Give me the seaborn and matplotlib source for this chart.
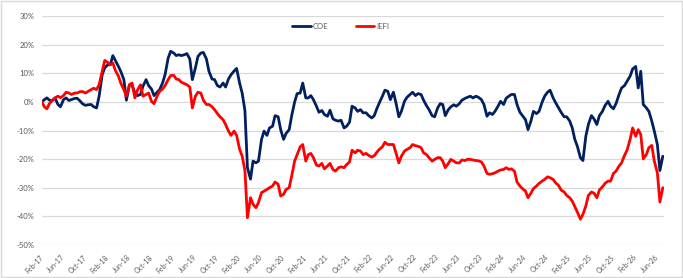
import numpy as np
import pandas as pd
import matplotlib
matplotlib.use("Agg")
import matplotlib.pyplot as plt
from matplotlib.patches import Rectangle
import seaborn as sns

# ---- data (cumulative performance, %, semi-monthly from Feb-2017) ----
start_date = "2017-02-01"
series_names = ["COE", "IEFI"]
series_colors = ["#002060", "#FF0000"]

coe = [
    0.0, 0.8, 1.4, 0.6, 0.5, 1.4, -0.9, -1.7, 0.8, 1.4,
    0.5, 0.8, 1.2, 1.3, 0.3, -0.7, -1.2, -1.0, -0.9, -1.7,
    -2.1, 2.0, 9.5, 11.9, 13.0, 13.0, 16.2, 14.5, 12.4, 10.5,
    7.8, 0.6, 6.0, 6.0, 3.1, 2.2, 2.6, 5.5, 7.8, 5.7,
    4.5, 2.2, 3.4, 4.3, 6.6, 9.5, 15.3, 17.7, 17.1, 16.2,
    16.5, 16.2, 16.5, 16.9, 15.0, 7.8, 11.9, 15.9, 17.1, 17.3,
    15.0, 10.7, 8.0, 7.8, 5.7, 5.2, 6.6, 5.2, 8.0, 9.5,
    10.8, 11.7, 6.5, 3.0, -3.0, -23.0, -27.0, -20.7, -21.3, -20.7,
    -13.1, -10.2, -11.7, -9.1, -8.5, -4.8, -5.2, -9.7, -13.1, -11.0,
    -9.7, -4.8, -0.1, 2.9, 3.1, 6.6, 1.4, 1.4, 2.2, 0.8,
    -1.5, -3.6, -3.0, -4.4, -5.0, -2.9, -5.9, -6.4, -6.7, -6.4,
    -9.1, -8.5, -7.1, -1.5, -2.1, -3.3, -2.7, -3.8, -3.8, -4.8,
    -5.6, -4.8, -2.4, -0.3, 2.0, 4.1, 3.7, 0.8, 3.4, -0.3,
    -5.2, -3.3, 0.2, 1.6, 2.6, 3.4, 2.2, 2.9, 2.6, 0.6,
    -1.3, -2.7, -4.8, -5.2, -2.1, -0.6, -0.9, -4.8, -2.7, -1.7,
    -1.0, -1.5, -0.6, 0.6, 1.2, 1.6, 2.0, 1.4, 2.0, 1.6,
    0.8, -0.9, -5.0, -3.8, -4.4, -3.3, -1.5, 0.2, -0.9, 1.3,
    2.0, 2.6, 2.6, -0.9, -3.6, -4.8, -6.2, -9.7, -6.7, -3.3,
    -4.1, -3.3, -0.1, 2.0, 3.4, 4.1, 1.4, -0.3, -2.1, -3.6,
    -5.2, -5.2, -6.7, -9.1, -13.1, -15.5, -19.5, -20.5, -12.0, -7.9,
    -4.8, -5.9, -7.9, -4.8, -3.3, -1.3, 0.2, -1.5, -2.4, -0.6,
    2.6, 4.9, 5.7, 7.2, 9.0, 11.5, 12.4, 4.9, 10.7, -0.9,
    -2.1, -3.3, -6.7, -10.2, -14.9, -24.0,
    -19.0,
]

iefi = [
    0.0, -1.7, -2.4, -0.6, 0.6, 1.4, 2.0, 1.5, 2.2, 3.4,
    3.1, 2.6, 3.1, 3.1, 3.6, 3.6, 3.1, 3.7, 4.3, 4.8,
    4.3, 6.0, 10.7, 14.5, 13.8, 13.0, 13.6, 11.0, 9.0, 6.4,
    4.3, 2.0, 6.0, 6.6, 1.4, 4.1, 6.0, 2.0, 2.6, 3.1,
    0.2, -0.6, 2.0, 3.7, 4.5, 5.7, 7.8, 9.2, 9.3, 8.0,
    7.8, 6.9, 6.4, 6.0, 5.2, -2.1, 2.0, 3.4, 3.1, 0.6,
    -0.9, -0.9, -1.7, -2.7, -4.1, -5.2, -6.2, -7.9, -10.2, -11.7,
    -10.2, -11.7, -16.6, -19.0, -24.0, -40.5, -33.5, -35.8, -37.0, -35.2,
    -31.7, -31.2, -30.6, -30.0, -29.4, -28.0, -28.8, -32.9, -32.3, -30.6,
    -30.0, -25.9, -20.7, -18.4, -15.7, -14.9, -20.7, -18.4, -18.0, -19.5,
    -22.1, -22.4, -21.5, -23.4, -22.4, -21.5, -23.6, -24.2, -23.0, -22.7,
    -23.0, -21.9, -21.0, -16.9, -17.8, -16.9, -17.2, -18.4, -18.0, -18.7,
    -19.3, -18.8, -17.6, -16.6, -15.7, -14.1, -14.9, -14.9, -14.9, -17.8,
    -21.3, -19.0, -17.2, -16.6, -16.0, -14.9, -15.3, -15.5, -16.0, -17.8,
    -18.4, -19.5, -20.7, -20.1, -19.5, -19.5, -20.7, -23.0, -21.5, -20.1,
    -20.7, -21.3, -21.3, -20.3, -20.5, -20.1, -20.1, -20.3, -20.5, -20.6,
    -21.0, -22.4, -25.0, -25.3, -25.1, -24.8, -24.2, -23.8, -23.6, -23.0,
    -23.6, -23.4, -24.2, -28.0, -29.4, -30.3, -31.2, -33.5, -31.9, -30.3,
    -29.4, -28.5, -27.7, -27.1, -26.2, -26.5, -27.1, -28.3, -29.2, -30.8,
    -31.5, -32.7, -33.5, -34.7, -36.6, -38.5, -41.0, -39.3, -36.4, -32.7,
    -31.5, -31.9, -33.5, -30.8, -29.7, -28.5, -27.7, -27.7, -25.0, -24.2,
    -22.4, -21.3, -18.7, -16.9, -13.1, -9.1, -12.0, -9.7, -11.4, -19.9,
    -18.4, -16.0, -15.2, -20.7, -24.8, -35.0,
    -30.0,
]

y_ticks = [30, 20, 10, 0, -10, -20, -30, -40, -50]
x_tick_start = "2017-02-01"
x_tick_end = "2026-06-01"

# ---- build long table ----
dates = pd.date_range(start_date, periods=len(coe), freq="SMS")
n = len(dates)
df = pd.DataFrame({
    "date": list(dates) * 2,
    "value": coe + iefi,
    "series": [series_names[0]] * n + [series_names[1]] * n,
})

sns.set_theme(style="white")
plt.rcParams["font.family"] = ["Lato", "DejaVu Sans"]

fig = plt.figure(figsize=(6.83, 2.78), dpi=100)
ax = fig.add_axes([0.061, 0.119, 0.911, 0.823])

sns.lineplot(data=df, x="date", y="value", hue="series",
             palette=dict(zip(series_names, series_colors)),
             linewidth=2.0, ax=ax, legend=True)

# axes styling
ax.set_ylim(-50, 30)
ax.set_yticks(y_ticks)
ax.set_yticklabels([f"{v}%" for v in y_ticks])
ax.set_xlim(pd.Timestamp("2017-01-31"), pd.Timestamp("2026-07-07"))
xt = pd.date_range(x_tick_start, x_tick_end, freq="4MS")
ax.set_xticks(xt)
ax.set_xticklabels([d.strftime("%b-%y") for d in xt], rotation=45,
                   ha="right", va="center", rotation_mode="anchor")
ax.set_xlabel("")
ax.set_ylabel("")
ax.yaxis.grid(True, color="#d9d9d9", linewidth=0.9)
ax.xaxis.grid(False)
ax.set_axisbelow(True)
for s in ax.spines.values():
    s.set_visible(False)
ax.tick_params(axis="both", length=0, labelsize=5.5, labelcolor="#595959")
ax.tick_params(axis="x", labelsize=5.0, pad=8)
ax.tick_params(axis="y", pad=5)

handles, labels = ax.get_legend_handles_labels()
ax.legend(handles, labels, loc="center", bbox_to_anchor=(0.481, 0.956),
          ncol=2, frameon=False, fontsize=5.5, handlelength=2.4,
          columnspacing=3.6, handletextpad=0.3, labelcolor="#595959")

fig.add_artist(Rectangle((0.001, 0.002), 0.997, 0.995, transform=fig.transFigure,
                         fill=False, edgecolor="#d9d9d9", linewidth=1))

fig.savefig("out.png", dpi=100, facecolor="white")
